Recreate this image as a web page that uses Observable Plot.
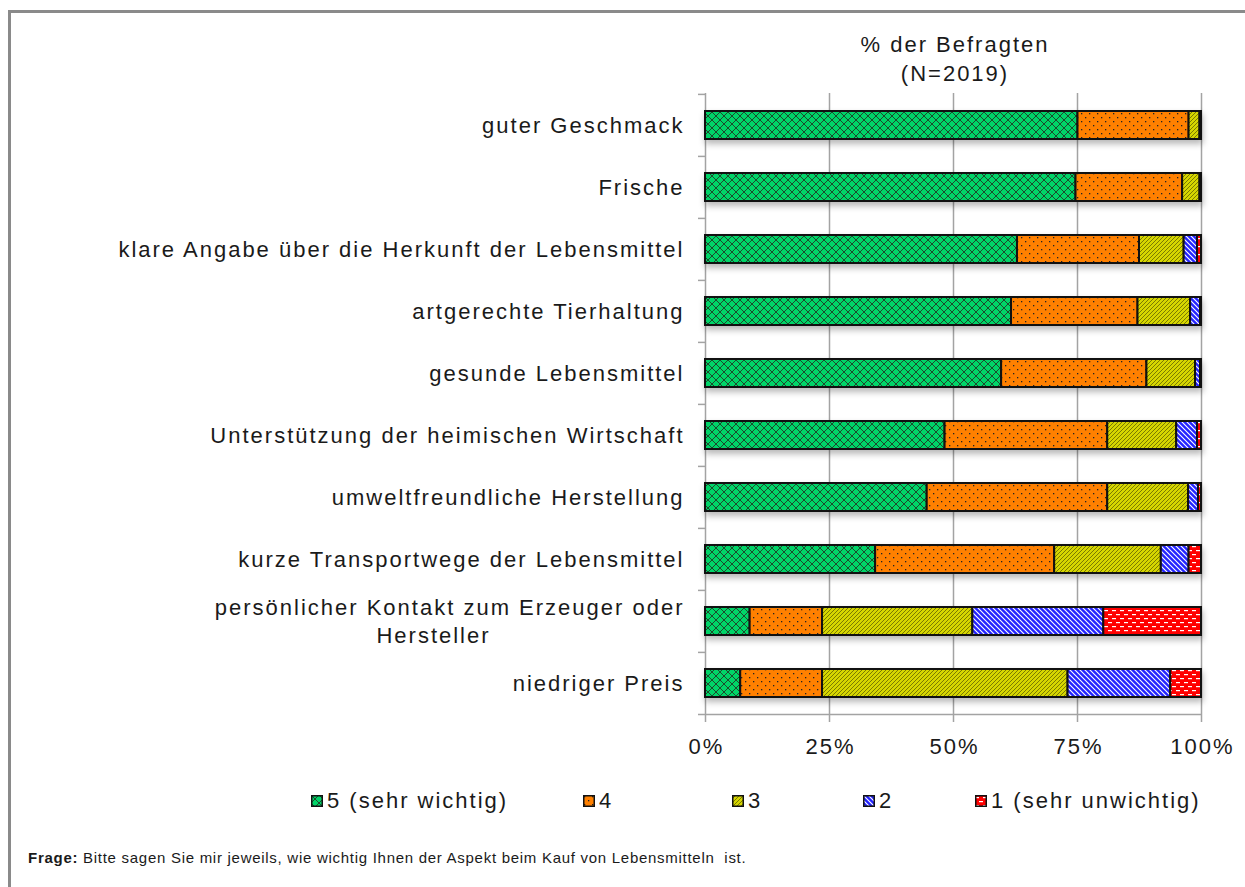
<!DOCTYPE html>
<html><head><meta charset="utf-8">
<script src="https://cdn.jsdelivr.net/npm/d3@7"></script>
<script src="https://cdn.jsdelivr.net/npm/@observablehq/plot@0.6"></script>
<style>
html,body{margin:0;padding:0;background:#fff;}
body{width:1245px;height:887px;overflow:hidden;position:relative;font-family:"Liberation Sans",Arial,sans-serif;color:#1a1a1a;}
#frame{position:absolute;left:8px;top:10px;width:1260px;height:900px;border-left:3px solid #8a8a8a;border-top:3px solid #8a8a8a;}
#title{position:absolute;left:753px;width:400px;top:29.5px;text-align:center;font-size:22px;letter-spacing:2px;line-height:29px;padding-left:2px;}
#chart{position:absolute;left:0;top:80px;}
#legend{position:absolute;left:0;top:789px;width:1245px;height:24px;font-size:22px;letter-spacing:2px;line-height:24px;}
.item{position:absolute;top:0;white-space:nowrap;display:flex;align-items:center;}
.item svg{margin-right:4px;}
#footer{position:absolute;left:28px;top:849px;font-size:15px;line-height:18px;letter-spacing:0.72px;white-space:nowrap;}
</style></head>
<body>
<svg width="0" height="0" style="position:absolute">
<defs>
<pattern id="p5" width="8" height="8" patternUnits="userSpaceOnUse"><rect width="8" height="8" fill="#00d468"/><path d="M0,0L8,8M8,0L0,8" stroke="#1d4a2c" stroke-width="1"/></pattern>
<pattern id="p4" width="8" height="8" patternUnits="userSpaceOnUse"><rect width="8" height="8" fill="#ff8000"/><rect x="1" y="1" width="1.3" height="1.3" fill="#222"/><rect x="5" y="5" width="1.3" height="1.3" fill="#222"/></pattern>
<pattern id="p3" width="4" height="4" patternUnits="userSpaceOnUse"><rect width="4" height="4" fill="#d6d600"/><path d="M-1,1L1,-1M0,4L4,0M3,5L5,3" stroke="#6f6f00" stroke-width="0.9"/></pattern>
<pattern id="p2" width="5" height="5" patternUnits="userSpaceOnUse"><rect width="5" height="5" fill="#2424ff"/><path d="M-1,4L1,6M0,0L5,5M4,-1L6,1" stroke="#fff" stroke-width="1.1"/></pattern>
<pattern id="p1" width="8" height="8" patternUnits="userSpaceOnUse"><rect width="8" height="8" fill="#ff0000"/><rect x="0" y="2" width="4" height="1.2" fill="#fff"/><rect x="4" y="6" width="4" height="1.2" fill="#fff"/></pattern>
</defs>
</svg>
<div id="frame"></div>
<div id="title">% der Befragten<br>(N=2019)</div>
<div id="chart"></div>
<div id="legend"></div>
<div id="footer"><b>Frage:</b> Bitte sagen Sie mir jeweils, wie wichtig Ihnen der Aspekt beim Kauf von Lebensmitteln&nbsp; ist.</div>
<script>
// ---- data ----
const categories = [
  "guter Geschmack",
  "Frische",
  "klare Angabe über die Herkunft der Lebensmittel",
  "artgerechte Tierhaltung",
  "gesunde Lebensmittel",
  "Unterstützung der heimischen Wirtschaft",
  "umweltfreundliche Herstellung",
  "kurze Transportwege der Lebensmittel",
  "persönlicher Kontakt zum Erzeuger oder\nHersteller",
  "niedriger Preis"
];
const levels = ["5 (sehr wichtig)", "4", "3", "2", "1 (sehr unwichtig)"];
const v5 = [75.1, 74.7, 62.9, 61.7, 59.7, 48.3, 44.7, 34.3, 9.0, 7.1];
const v4 = [22.4, 21.5, 24.6, 25.5, 29.3, 32.8, 36.4, 36.1, 14.6, 16.5];
const v3 = [2.2, 3.5, 9.0, 10.6, 9.8, 13.9, 16.3, 21.5, 30.3, 49.5];
const v2 = [0.3, 0.3, 2.7, 2.0, 1.0, 4.2, 2.0, 5.6, 26.4, 20.7];
const v1 = [0.0, 0.0, 0.8, 0.2, 0.2, 0.8, 0.6, 2.5, 19.7, 6.2];
const xTicks = [0, 25, 50, 75, 100];
const fills = ["url(#p5)", "url(#p4)", "url(#p3)", "url(#p2)", "url(#p1)"];

const series = [v5, v4, v3, v2, v1];
const rows = [];
levels.forEach((lv, j) => categories.forEach((c, i) => {
  if (series[j][i] > 0) rows.push({category: c, level: lv, value: series[j][i]});
}));

const W = 1245, H = 680, mt = 13, mb = 45, ml = 705, mr = 44;
const step = (H - mt - mb) / categories.length;
const single = categories.filter(c => !c.includes("\n"));
const multi = categories.filter(c => c.includes("\n"));
const grid = "#a3a3a3";

const plot = Plot.plot({
  width: W, height: H,
  marginTop: mt, marginBottom: mb, marginLeft: ml, marginRight: mr,
  style: {fontFamily: "'Liberation Sans', Arial, sans-serif", fontSize: "22px", letterSpacing: "2px", color: "#1a1a1a", background: "transparent", overflow: "visible"},
  x: {domain: [0, 100], axis: null, label: null},
  y: {domain: categories, paddingInner: 0.55, paddingOuter: 0.275, axis: null, label: null},
  color: {domain: levels, range: fills},
  marks: [
    Plot.ruleX(xTicks, {x: d => d, stroke: grid, strokeWidth: 1.5, insetBottom: -7}),
    Plot.ruleY(categories, {y: d => d, dy: -step / 2, x1: 0, x2: 0, insetLeft: -7, stroke: grid, strokeWidth: 1.5}),
    Plot.ruleY(categories.slice(-1), {y: d => d, dy: step / 2, stroke: grid, strokeWidth: 1.5, insetLeft: -7}),
    Plot.barX(rows, Plot.stackX({x: "value", y: "category", fill: "level", stroke: "#111", strokeWidth: 2, order: null})),
    Plot.text(single, {y: d => d, text: d => d, frameAnchor: "left", textAnchor: "end", dx: -21, fill: "#1a1a1a"}),
    Plot.text(multi, {y: d => d, text: d => d.split("\n")[0], frameAnchor: "left", textAnchor: "end", dx: -21, dy: -14, fill: "#1a1a1a"}),
    Plot.text(multi, {y: d => d, text: d => d.split("\n")[1], frameAnchor: "left", textAnchor: "middle", dx: -272, dy: 14, fill: "#1a1a1a"}),
    Plot.axisX(xTicks, {tickFormat: d => d + "%", tickSize: 0, tickPadding: 23, fontSize: 22, dx: 1, fill: "#1a1a1a", label: null})
  ]
});
document.getElementById("chart").appendChild(plot);
d3.select(plot).selectAll("g[aria-label='bar']").style("filter", "drop-shadow(1px 4px 3px rgba(0,0,0,0.28))");

// legend
const legendLeft = [311, 583, 732, 863, 975];
const legend = document.getElementById("legend");
levels.forEach((lv, j) => {
  const it = document.createElement("div");
  it.className = "item";
  it.style.left = legendLeft[j] + "px";
  it.innerHTML = `<svg width="12" height="12"><rect x="0.75" y="0.75" width="10.5" height="10.5" fill="${fills[j]}" stroke="#111" stroke-width="1.5"/></svg><span>${lv}</span>`;
  legend.appendChild(it);
});
</script>
</body></html>
